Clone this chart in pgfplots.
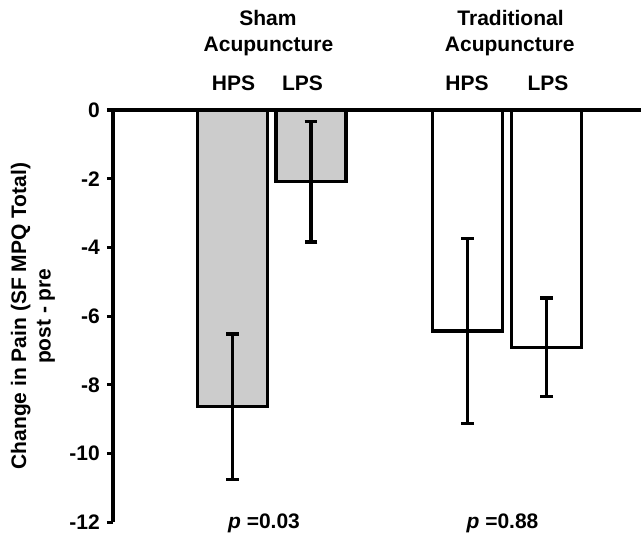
\documentclass[border=0pt]{standalone}
\usepackage{pgfplots}
\pgfplotsset{compat=1.18}
\usepackage{fontspec}
\setmainfont{Liberation Sans}
\definecolor{barg}{RGB}{204,204,204}
\begin{document}
\fontsize{21bp}{24.5bp}\selectfont\bfseries
\begin{tikzpicture}
\useasboundingbox (0,0) rectangle (641bp,537bp);
\begin{axis}[
  at={(113bp,14.7bp)}, anchor=south west,
  scale only axis, width=528bp, height=412.3bp,
  xmin=113, xmax=641, ymin=-12, ymax=0,
  axis x line*=top, axis y line*=left,
  axis line style={line width=3.2bp, black},
  xtick=\empty,
  ytick={-12,-10,-8,-6,-4,-2,0},
  yticklabels={-12,-10,-8,-6,-4,-2,0},
  tick align=outside, major tick length=6bp,
  tick style={line width=3.2bp, black},
  ybar, bar width=70, bar shift=0pt,
  clip=false,
  ylabel={Change in Pain (SF MPQ Total)\\post - pre},
  ylabel style={at={(axis description cs:-0.1515,0.5)}, anchor=center, align=center},
]
\addplot[fill=barg, draw=black, line width=3.2bp,
  error bars/.cd, y dir=both, y explicit,
  error bar style={line width=3.2bp, black},
  error mark options={rotate=90, line width=3.2bp, mark size=6.3bp, black}]
  coordinates {(232.5,-8.64) +- (0,2.12) (311,-2.09) +- (0,1.75)};
\addplot[fill=white, draw=black, line width=3.2bp,
  error bars/.cd, y dir=both, y explicit,
  error bar style={line width=3.2bp, black},
  error mark options={rotate=90, line width=3.2bp, mark size=6.3bp, black}]
  coordinates {(467.7,-6.43) +- (0,2.69) (546.7,-6.91) +- (0,1.44)};
\node[anchor=base] at (axis cs:268,2.445) {Sham};
\node[anchor=base] at (axis cs:268.5,1.688) {Acupuncture};
\node[anchor=base] at (axis cs:510.5,2.445) {Traditional};
\node[anchor=base] at (axis cs:509.7,1.688) {Acupuncture};
\node[anchor=base] at (axis cs:233.5,0.562) {HPS};
\node[anchor=base] at (axis cs:302.5,0.562) {LPS};
\node[anchor=base] at (axis cs:467,0.562) {HPS};
\node[anchor=base] at (axis cs:548,0.562) {LPS};
\node[anchor=base] at (axis cs:264,-12.19) {\textit{p} =0.03};
\node[anchor=base] at (axis cs:502.5,-12.19) {\textit{p} =0.88};
\end{axis}
\end{tikzpicture}
\end{document}
